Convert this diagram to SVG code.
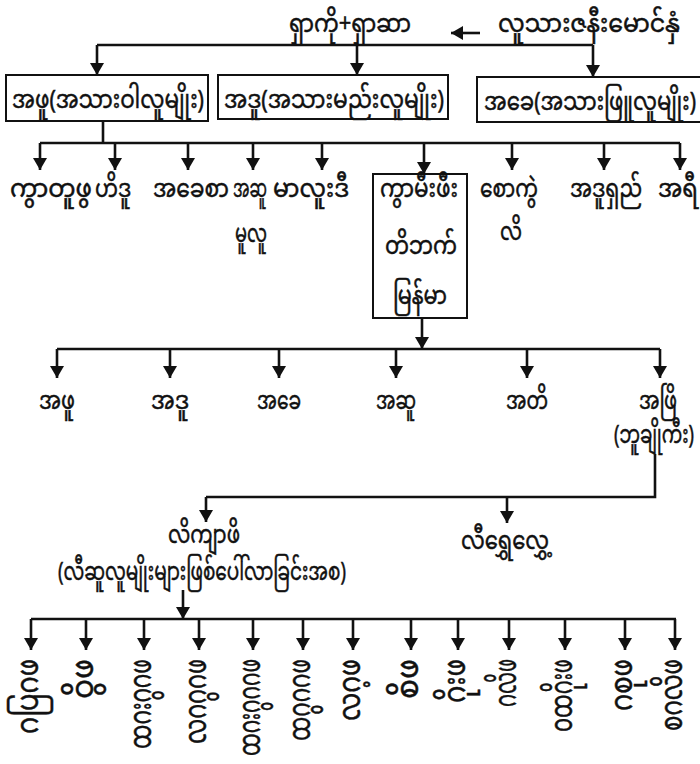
<svg xmlns="http://www.w3.org/2000/svg" width="700" height="764" viewBox="0 0 700 764">
<style>
.t{font-family:"Noto Sans Myanmar","Padauk","Myanmar Text","Noto Sans",sans-serif;font-size:25px;fill:#111;stroke:#111;stroke-width:0.5;text-anchor:middle}
.v{font-family:"Noto Sans Myanmar","Padauk","Myanmar Text","Noto Sans",sans-serif;font-size:30px;fill:#111;stroke:#111;stroke-width:0.5;text-anchor:end;dominant-baseline:central}
.ln{stroke:#111;stroke-width:2.6;fill:none}
.ar{stroke:#111;stroke-width:2.6;fill:none;marker-end:url(#ah)}
.box{fill:#fff;stroke:#111;stroke-width:2}
</style>
<defs>
<marker id="ah" viewBox="0 0 12 14" refX="12" refY="7" markerWidth="12" markerHeight="14" orient="auto" markerUnits="userSpaceOnUse"><path d="M0,0 L12,7 L0,14 z" fill="#111"/></marker>
</defs>
<rect width="700" height="764" fill="#fff"/>
<g id="connectors">
<line class="ar" x1="480" y1="33" x2="451" y2="33"/>
<line class="ln" x1="97" y1="45" x2="593" y2="45"/>
<line class="ar" x1="97" y1="45" x2="97" y2="75"/>
<line class="ar" x1="357" y1="45" x2="357" y2="75"/>
<line class="ar" x1="593" y1="45" x2="593" y2="77"/>
<line class="ln" x1="103" y1="121" x2="103" y2="143"/>
<line class="ln" x1="40" y1="143" x2="680" y2="143"/>
<line class="ar" x1="40" y1="143" x2="40" y2="170"/>
<line class="ar" x1="115" y1="143" x2="115" y2="170"/>
<line class="ar" x1="188" y1="143" x2="188" y2="170"/>
<line class="ar" x1="253" y1="143" x2="253" y2="170"/>
<line class="ar" x1="322" y1="143" x2="322" y2="170"/>
<line class="ar" x1="424" y1="143" x2="424" y2="174"/>
<line class="ar" x1="512" y1="143" x2="512" y2="170"/>
<line class="ar" x1="604" y1="143" x2="604" y2="170"/>
<line class="ar" x1="680" y1="143" x2="680" y2="170"/>
<line class="ar" x1="422" y1="318" x2="422" y2="349"/>
<line class="ln" x1="57" y1="349" x2="660" y2="349"/>
<line class="ar" x1="57" y1="349" x2="57" y2="378"/>
<line class="ar" x1="170" y1="349" x2="170" y2="378"/>
<line class="ar" x1="279" y1="349" x2="279" y2="378"/>
<line class="ar" x1="396" y1="349" x2="396" y2="378"/>
<line class="ar" x1="527" y1="349" x2="527" y2="378"/>
<line class="ar" x1="660" y1="349" x2="660" y2="378"/>
<polyline class="ln" points="655,454 655,497 206,497"/>
<line class="ar" x1="206" y1="497" x2="206" y2="522"/>
<line class="ar" x1="507" y1="497" x2="507" y2="523"/>
<line class="ar" x1="183" y1="590" x2="183" y2="619"/>
<line class="ln" x1="31" y1="619" x2="676" y2="619"/>
<line class="ar" x1="31" y1="619" x2="31" y2="650"/>
<line class="ar" x1="86" y1="619" x2="86" y2="650"/>
<line class="ar" x1="144" y1="619" x2="144" y2="650"/>
<line class="ar" x1="199" y1="619" x2="199" y2="650"/>
<line class="ar" x1="253" y1="619" x2="253" y2="650"/>
<line class="ar" x1="303" y1="619" x2="303" y2="650"/>
<line class="ar" x1="353" y1="619" x2="353" y2="650"/>
<line class="ar" x1="411" y1="619" x2="411" y2="650"/>
<line class="ar" x1="458" y1="619" x2="458" y2="650"/>
<line class="ar" x1="509" y1="619" x2="509" y2="650"/>
<line class="ar" x1="565" y1="619" x2="565" y2="650"/>
<line class="ar" x1="625" y1="619" x2="625" y2="650"/>
<line class="ar" x1="675" y1="619" x2="675" y2="650"/>
</g>
<g id="top"><text class="t" x="350" y="32" textLength="122" lengthAdjust="spacingAndGlyphs">ရှာကို+ရှာဆာ</text></g>
<g id="couple"><text class="t" x="589" y="32" textLength="182" lengthAdjust="spacingAndGlyphs">လူသားဇနီးမောင်နှံ</text></g>
<g id="b1"><rect class="box" x="6" y="75" width="202" height="46"/><text class="t" x="108" y="108" textLength="192" lengthAdjust="spacingAndGlyphs">အဖူ(အသားဝါလူမျိုး)</text></g>
<g id="b2"><rect class="box" x="218" y="75" width="230" height="44"/><text class="t" x="334" y="108" textLength="220" lengthAdjust="spacingAndGlyphs">အဒူ(အသားမည်းလူမျိုး)</text></g>
<g id="b3"><rect class="box" x="477" y="77" width="226" height="45"/><text class="t" x="590" y="110" textLength="212" lengthAdjust="spacingAndGlyphs">အခေ(အသားဖြူလူမျိုး)</text></g>
<g id="n1"><text class="t" x="51" y="197" textLength="82" lengthAdjust="spacingAndGlyphs">ကွာတူဖွ</text></g>
<g id="n2"><text class="t" x="113" y="197" textLength="36" lengthAdjust="spacingAndGlyphs">ဟိဒူ</text></g>
<g id="n3"><text class="t" x="191" y="197" textLength="76" lengthAdjust="spacingAndGlyphs">အခေစာ</text></g>
<g id="n4"><text class="t" x="250" y="197" textLength="34" lengthAdjust="spacingAndGlyphs">အဆူ</text><text class="t" x="251" y="242" textLength="32" lengthAdjust="spacingAndGlyphs">မူလူ</text></g>
<g id="n5"><text class="t" x="311" y="197" textLength="76" lengthAdjust="spacingAndGlyphs">မာလူးဒီ</text></g>
<g id="n6"><rect class="box" x="373" y="174" width="94" height="144"/><text class="t" x="419" y="197" textLength="78" lengthAdjust="spacingAndGlyphs">ကွာမီးဖီး</text><text class="t" x="421" y="254" textLength="72" lengthAdjust="spacingAndGlyphs">တိဘက်</text><text class="t" x="420" y="304" textLength="54" lengthAdjust="spacingAndGlyphs">မြန်မာ</text></g>
<g id="n7"><text class="t" x="509" y="197" textLength="58" lengthAdjust="spacingAndGlyphs">စောကွဲ</text><text class="t" x="511" y="240" textLength="22" lengthAdjust="spacingAndGlyphs">လိ</text></g>
<g id="n8"><text class="t" x="606" y="197" textLength="72" lengthAdjust="spacingAndGlyphs">အဒူရှည်</text></g>
<g id="n9"><text class="t" x="678" y="197" textLength="40" lengthAdjust="spacingAndGlyphs">အရီ</text></g>
<g id="m1"><text class="t" x="57" y="409" textLength="36" lengthAdjust="spacingAndGlyphs">အဖူ</text></g>
<g id="m2"><text class="t" x="170" y="409" textLength="38" lengthAdjust="spacingAndGlyphs">အဒူ</text></g>
<g id="m3"><text class="t" x="279" y="409" textLength="44" lengthAdjust="spacingAndGlyphs">အခေ</text></g>
<g id="m4"><text class="t" x="396" y="409" textLength="40" lengthAdjust="spacingAndGlyphs">အဆူ</text></g>
<g id="m5"><text class="t" x="527" y="409" textLength="42" lengthAdjust="spacingAndGlyphs">အတိ</text></g>
<g id="m6"><text class="t" x="658" y="409" textLength="38" lengthAdjust="spacingAndGlyphs">အဖြိ</text><text class="t" x="654" y="443" textLength="80" lengthAdjust="spacingAndGlyphs">(ဘူချိုကီး)</text></g>
<g id="l1"><text class="t" x="204" y="543" textLength="72" lengthAdjust="spacingAndGlyphs">လိကျာဖိ</text></g>
<g id="l2"><text class="t" x="505" y="549" textLength="88" lengthAdjust="spacingAndGlyphs">လီရွှေလွှေ့</text></g>
<g id="l3"><text class="t" x="202" y="580" textLength="288" lengthAdjust="spacingAndGlyphs">(လီဆူလူမျိုးများဖြစ်ပေါ်လာခြင်းအစ)</text></g>
<g id="c1"><text class="v" transform="translate(31,659) rotate(-90)" textLength="75" lengthAdjust="spacingAndGlyphs">ဂပြဂဖ</text></g>
<g id="c2"><text class="v" transform="translate(86,659) rotate(-90)" textLength="40" lengthAdjust="spacingAndGlyphs">ဝွိဖ</text></g>
<g id="c3"><text class="v" transform="translate(144,659) rotate(-90)" textLength="90" lengthAdjust="spacingAndGlyphs">ထဂးဂွဂဖ</text></g>
<g id="c4"><text class="v" transform="translate(199,659) rotate(-90)" textLength="85" lengthAdjust="spacingAndGlyphs">လဂဂွဂဖ</text></g>
<g id="c5"><text class="v" transform="translate(253,659) rotate(-90)" textLength="97" lengthAdjust="spacingAndGlyphs">ထဂးဂွဂဂဖ</text></g>
<g id="c6"><text class="v" transform="translate(303,659) rotate(-90)" textLength="82" lengthAdjust="spacingAndGlyphs">ထဂွဂဂဖ</text></g>
<g id="c7"><text class="v" transform="translate(353,659) rotate(-90)" textLength="62" lengthAdjust="spacingAndGlyphs">လဂ့ဖ</text></g>
<g id="c8"><text class="v" transform="translate(411,659) rotate(-90)" textLength="40" lengthAdjust="spacingAndGlyphs">စိဖ</text></g>
<g id="c9"><text class="v" transform="translate(458,659) rotate(-90)" textLength="44" lengthAdjust="spacingAndGlyphs">ဂိုးဖ</text></g>
<g id="c10"><text class="v" transform="translate(509,659) rotate(-90)" textLength="48" lengthAdjust="spacingAndGlyphs">ဂလိဖ</text></g>
<g id="c11"><text class="v" transform="translate(565,659) rotate(-90)" textLength="73" lengthAdjust="spacingAndGlyphs">ဝထဂိုးဖ</text></g>
<g id="c12"><text class="v" transform="translate(625,659) rotate(-90)" textLength="52" lengthAdjust="spacingAndGlyphs">ဂစုဖ</text></g>
<g id="c13"><text class="v" transform="translate(675,659) rotate(-90)" textLength="72" lengthAdjust="spacingAndGlyphs">စဂလိဖ</text></g>
</svg>
